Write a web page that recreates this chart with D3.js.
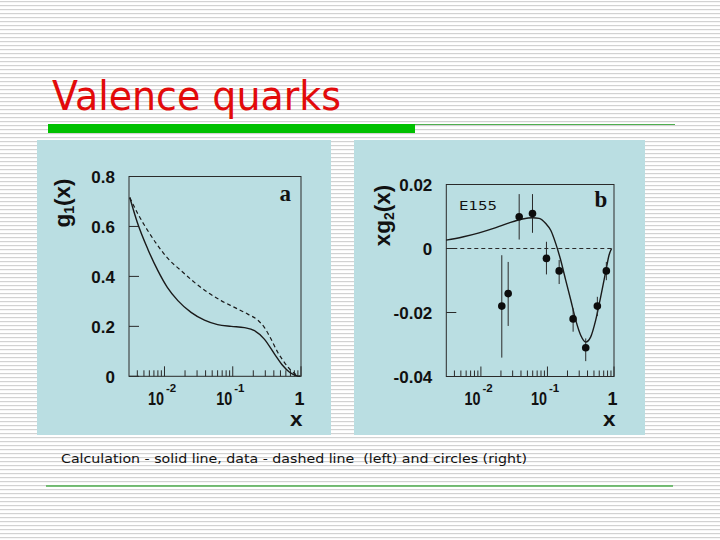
<!DOCTYPE html>
<html>
<head>
<meta charset="utf-8">
<script src="https://cdn.jsdelivr.net/npm/d3@7"></script>
<style>
html,body{margin:0;padding:0;background:#fff;}
svg{display:block;}
</style>
</head>
<body>
<svg id="chart" width="720" height="540"></svg>
<script>
// ---------- DATA ----------
const titleText = "Valence quarks";
const captionText = "Calculation - solid line, data - dashed line  (left) and circles (right)";

// Panel a : g1(x)
const g1X      = [0.0031, 0.004, 0.0057, 0.008, 0.011, 0.0157, 0.0245, 0.0385, 0.06, 0.095, 0.148, 0.208, 0.29, 0.41, 0.54, 0.68, 0.85, 0.98];
const g1Calc   = [0.716, 0.616, 0.509, 0.423, 0.356, 0.303, 0.256, 0.225, 0.207, 0.200, 0.195, 0.183, 0.149, 0.089, 0.043, 0.016, 0.003, 0.0];
const g1DataX  = [0.0031, 0.0041, 0.0057, 0.008, 0.0112, 0.0175, 0.0275, 0.043, 0.0675, 0.106, 0.166, 0.232, 0.29, 0.364, 0.456, 0.57, 0.715, 0.845, 0.955];
const g1Data   = [0.716, 0.649, 0.583, 0.523, 0.472, 0.423, 0.376, 0.336, 0.303, 0.276, 0.249, 0.225, 0.196, 0.149, 0.096, 0.056, 0.023, 0.007, 0.0];
const g1YTicks = [0, 0.2, 0.4, 0.6, 0.8];
const g1YLabels = ["0", "0.2", "0.4", "0.6", "0.8"];

// Panel b : x g2(x)
const g2CalcX  = [0.003, 0.0053, 0.0094, 0.0168, 0.0266, 0.0422, 0.0596, 0.075, 0.0944, 0.112, 0.133, 0.158, 0.188, 0.224, 0.266, 0.316, 0.376, 0.447, 0.531, 0.631, 0.75, 0.841, 0.92];
const g2Calc   = [0.0026, 0.0036, 0.0049, 0.0065, 0.0080, 0.0092, 0.0096, 0.0094, 0.0078, 0.0057, 0.0016, -0.0036, -0.0099, -0.0161, -0.0224, -0.0271, -0.0292, -0.0276, -0.0224, -0.0151, -0.0073, -0.0021, 0.0];
const e155X    = [0.0206, 0.0257, 0.0376, 0.0596, 0.0966, 0.150, 0.243, 0.376, 0.562, 0.767];
const e155Y    = [-0.0180, -0.0141, 0.0099, 0.0109, -0.0031, -0.0070, -0.0220, -0.0310, -0.0180, -0.0070];
const e155Lo   = [-0.0341, -0.0242, 0.0028, 0.0049, -0.0081, -0.0111, -0.0260, -0.0352, -0.0211, -0.0099];
const e155Hi   = [-0.0021, -0.0042, 0.0170, 0.0170, 0.0021, -0.0036, -0.0187, -0.0281, -0.0151, -0.0042];
const g2YTicks = [-0.04, -0.02, 0, 0.02];
const g2YLabels = ["-0.04", "-0.02", "0", "0.02"];

// shared x axis
const xMin = Math.pow(10, -2.52);
const xMax = 1;
const xMajor = [0.01, 0.1];
const xMajorExp = ["-2", "-1"];

// ---------- DRAW ----------
const svg = d3.select("#chart");
const defs = svg.append("defs");
const pat = defs.append("pattern").attr("id", "stripes").attr("patternUnits", "userSpaceOnUse")
  .attr("width", 8).attr("height", 4);
pat.append("rect").attr("width", 8).attr("height", 4).attr("fill", "#ffffff");
pat.append("rect").attr("y", 1).attr("width", 8).attr("height", 1.2).attr("fill", "#d2d2d2");
svg.append("rect").attr("width", 720).attr("height", 540).attr("fill", "url(#stripes)");

// title
svg.append("text").attr("x", 52).attr("y", 110)
  .attr("font-family", "DejaVu Sans, Verdana, sans-serif").attr("font-size", 40)
  .attr("textLength", 289).attr("lengthAdjust", "spacingAndGlyphs")
  .attr("fill", "#e20a0a").text(titleText);

// green rule under title
svg.append("rect").attr("x", 48).attr("y", 124).attr("width", 367).attr("height", 9).attr("fill", "#00c000");
svg.append("line").attr("x1", 415).attr("x2", 675).attr("y1", 124.5).attr("y2", 124.5)
  .attr("stroke", "#4fae4f").attr("stroke-width", 1.2);
// bottom rule
svg.append("line").attr("x1", 46).attr("x2", 673).attr("y1", 486).attr("y2", 486)
  .attr("stroke", "#4fae4f").attr("stroke-width", 1.4);

// caption
svg.append("text").attr("x", 61).attr("y", 463)
  .attr("font-family", "DejaVu Sans, Verdana, sans-serif").attr("font-size", 13)
  .attr("textLength", 466).attr("lengthAdjust", "spacingAndGlyphs")
  .attr("xml:space", "preserve").style("white-space", "pre")
  .attr("fill", "#111").text(captionText);

const PANEL_BG = "#badee2";
const AX = "#2a2a2a";
const FONT = "Liberation Sans, Arial, sans-serif";

function drawPanel(cfg) {
  const g = svg.append("g");
  g.append("rect").attr("x", cfg.box[0]).attr("y", cfg.box[1]).attr("width", cfg.box[2]).attr("height", cfg.box[3])
    .attr("fill", PANEL_BG);
  const x = d3.scaleLog().domain([xMin, xMax]).range(cfg.xr);
  const y = d3.scaleLinear().domain(cfg.yd).range(cfg.yr);
  const L = cfg.xr[0], R = cfg.xr[1], B = cfg.yr[0], T = cfg.yr[1];

  // frame
  g.append("rect").attr("x", L).attr("y", T).attr("width", R - L).attr("height", B - T)
    .attr("fill", "none").attr("stroke", AX).attr("stroke-width", 1);

  // x ticks (inside)
  const ticks = x.ticks().filter(t => t >= xMin && t <= xMax);
  ticks.forEach(t => {
    const m = Math.abs(Math.log10(t) - Math.round(Math.log10(t))) < 1e-9;
    g.append("line").attr("x1", x(t)).attr("x2", x(t)).attr("y1", B).attr("y2", B - (m ? 10 : 6))
      .attr("stroke", AX).attr("stroke-width", 1);
  });
  // y ticks (inside)
  cfg.yTicks.forEach(t => {
    g.append("line").attr("x1", L).attr("x2", L + 10).attr("y1", y(t)).attr("y2", y(t))
      .attr("stroke", AX).attr("stroke-width", 1);
  });
  // y labels
  cfg.yTicks.forEach((t, i) => {
    g.append("text").attr("x", L - 14).attr("y", y(t)).attr("dy", "0.4em")
      .attr("text-anchor", "end").attr("font-family", FONT).attr("font-weight", "bold")
      .attr("font-size", 17).attr("fill", "#111").text(cfg.yLabels[i]);
  });
  // x labels
  xMajor.forEach((t, i) => {
    g.append("text").attr("x", x(t) - 16.5).attr("y", 405)
      .attr("font-family", FONT).attr("font-weight", "bold").attr("font-size", 18)
      .attr("textLength", 16).attr("lengthAdjust", "spacingAndGlyphs")
      .attr("fill", "#111").text("10");
    g.append("text").attr("x", x(t) + 1.5).attr("y", 392)
      .attr("font-family", FONT).attr("font-weight", "bold").attr("font-size", 11.5)
      .attr("fill", "#111").text(xMajorExp[i]);
  });
  g.append("text").attr("x", x(1) - 1.5).attr("y", 405).attr("text-anchor", "middle")
    .attr("font-family", FONT).attr("font-weight", "bold").attr("font-size", 18)
    .attr("fill", "#111").text("1");
  g.append("text").attr("x", x(1) + 1.5).attr("y", 426).attr("text-anchor", "end")
    .attr("font-family", FONT).attr("font-weight", "bold").attr("font-size", 21)
    .attr("textLength", 12.5).attr("lengthAdjust", "spacingAndGlyphs")
    .attr("fill", "#111").text("x");

  // y title
  const yt = g.append("text").attr("transform", `translate(${cfg.ytPos[0]},${cfg.ytPos[1]}) rotate(-90)`)
    .attr("text-anchor", "middle").attr("font-family", FONT).attr("font-weight", "bold")
    .attr("font-size", 22.5).attr("fill", "#111");
  yt.append("tspan").text(cfg.ytPre);
  yt.append("tspan").attr("font-size", 14).attr("dy", 4).text(cfg.ytSub);
  yt.append("tspan").attr("dy", -4).text("(x)");

  // panel letter
  g.append("text").attr("x", cfg.letterPos[0]).attr("y", cfg.letterPos[1])
    .attr("font-family", "Liberation Serif, Times New Roman, serif").attr("font-weight", "bold")
    .attr("font-size", 23).attr("fill", "#111").text(cfg.letter);

  return {g, x, y};
}

// Panel a
const A = drawPanel({
  box: [37, 140, 294, 295], xr: [129, 301], yd: [0, 0.8], yr: [376.3, 176.5],
  yTicks: g1YTicks, yLabels: g1YLabels, ytPos: [69.5, 203], ytPre: "g", ytSub: "1",
  letter: "a", letterPos: [279.5, 200.5]
});
const lineA = d3.line().x(d => A.x(d[0])).y(d => A.y(d[1])).curve(d3.curveMonotoneX);
A.g.append("path").datum(d3.zip(g1X, g1Calc)).attr("d", lineA)
  .attr("fill", "none").attr("stroke", "#1a1a1a").attr("stroke-width", 1.4);
A.g.append("path").datum(d3.zip(g1DataX, g1Data)).attr("d", lineA)
  .attr("fill", "none").attr("stroke", "#1a1a1a").attr("stroke-width", 1.2).attr("stroke-dasharray", "4,3");

// Panel b
const Bp = drawPanel({
  box: [354, 140, 291, 295], xr: [446.3, 614], yd: [-0.04, 0.02], yr: [376.5, 184.5],
  yTicks: g2YTicks, yLabels: g2YLabels, ytPos: [390, 215.5], ytPre: "xg", ytSub: "2",
  letter: "b", letterPos: [594.5, 206.7]
});
// zero dashed line
Bp.g.append("line").attr("x1", Bp.x(xMin)).attr("x2", Bp.x(xMax)).attr("y1", Bp.y(0)).attr("y2", Bp.y(0))
  .attr("stroke", "#2a2a2a").attr("stroke-width", 1.1).attr("stroke-dasharray", "4,3");
const lineB = d3.line().x(d => Bp.x(d[0])).y(d => Bp.y(d[1])).curve(d3.curveMonotoneX);
Bp.g.append("path").datum(d3.zip(g2CalcX, g2Calc)).attr("d", lineB)
  .attr("fill", "none").attr("stroke", "#1a1a1a").attr("stroke-width", 1.4);
// error bars
Bp.g.selectAll("line.err").data(d3.range(e155X.length)).join("line").attr("class", "err")
  .attr("x1", i => Bp.x(e155X[i])).attr("x2", i => Bp.x(e155X[i]))
  .attr("y1", i => Bp.y(e155Lo[i])).attr("y2", i => Bp.y(e155Hi[i]))
  .attr("stroke", "#2a2a2a").attr("stroke-width", 1);
Bp.g.selectAll("circle.pt").data(d3.range(e155X.length)).join("circle").attr("class", "pt")
  .attr("cx", i => Bp.x(e155X[i])).attr("cy", i => Bp.y(e155Y[i])).attr("r", 3.8)
  .attr("fill", "#0d0d0d");
// E155 label
Bp.g.append("text").attr("x", 459).attr("y", 210)
  .attr("font-family", "DejaVu Sans, Verdana, sans-serif").attr("font-size", 13)
  .attr("textLength", 38).attr("lengthAdjust", "spacingAndGlyphs")
  .attr("fill", "#111").text("E155");
</script>
</body>
</html>
